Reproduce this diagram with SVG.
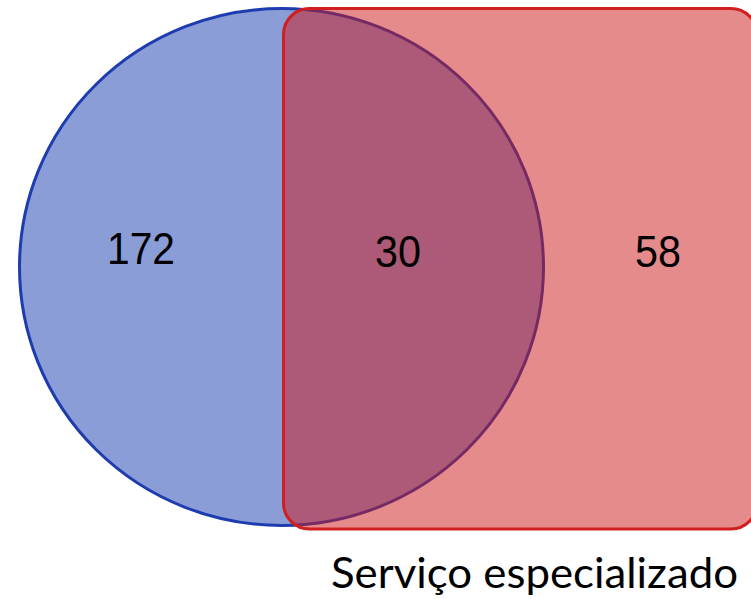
<svg xmlns="http://www.w3.org/2000/svg" width="751" height="599" viewBox="0 0 751 599">
<style>
.num{font-family:"Liberation Sans",Arial,sans-serif;font-size:43.5px;fill:#000;text-anchor:middle}
.cap{font-family:Lato,"Open Sans",sans-serif;font-size:42px;fill:#000}
</style>
<rect width="751" height="599" fill="#fff"/>
<g id="set-a">
<ellipse cx="281.5" cy="267" rx="262" ry="258.5" fill="#8A9DD6" stroke="#1D3CB0" stroke-width="3"/>
</g>
<g id="set-b">
<rect x="283.5" y="8.5" width="473.5" height="520.5" rx="26" ry="26" fill="#CD1717" fill-opacity="0.5" stroke="#D11E1E" stroke-width="3"/>
</g>
<g id="labels">
<text class="num" x="141" y="264" textLength="68" lengthAdjust="spacingAndGlyphs">172</text>
<text class="num" x="398" y="267" textLength="46" lengthAdjust="spacingAndGlyphs">30</text>
<text class="num" x="658" y="267" textLength="46" lengthAdjust="spacingAndGlyphs">58</text>
<text class="cap" x="331" y="588" textLength="407" lengthAdjust="spacingAndGlyphs">Serviço especializado</text>
</g>
<g id="connectors"></g>
</svg>
